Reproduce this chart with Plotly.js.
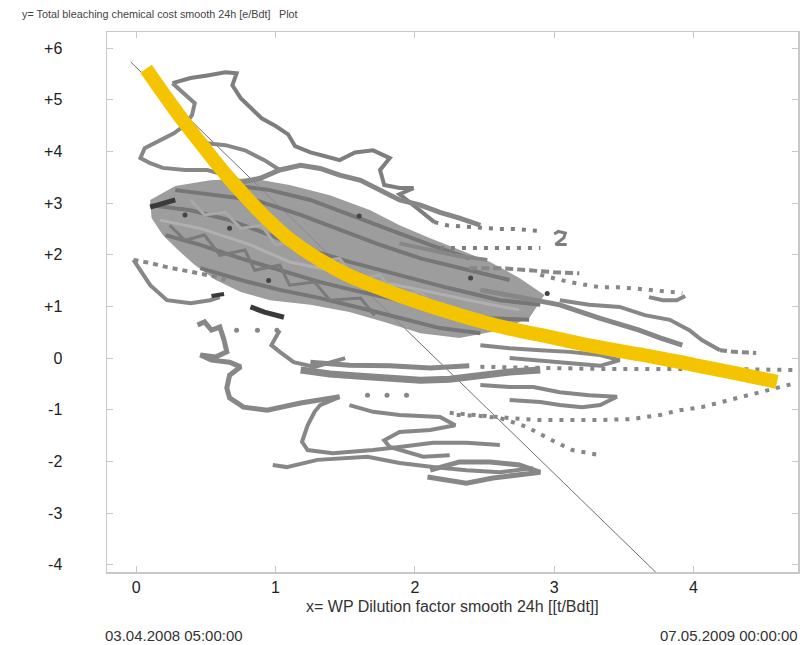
<!DOCTYPE html>
<html><head><meta charset="utf-8">
<script src="https://cdn.plot.ly/plotly-3.0.1.min.js"></script>
<style>html,body{margin:0;padding:0;background:#fff}#chart{width:803px;height:645px}</style>
</head><body><div id="chart"></div>
<script>
// ---- axis ticks ----
const xTickVals = [0, 1, 2, 3, 4];
const xTickText = ['0', '1', '2', '3', '4'];
const yTickVals = [6, 5, 4, 3, 2, 1, 0, -1, -2, -3, -4];
const yTickText = ['+6', '+5', '+4', '+3', '+2', '+1', '0', '-1', '-2', '-3', '-4'];

// ---- texts ----
const titleY = 'y= Total bleaching chemical cost smooth 24h [e/Bdt]';
const titlePlot = 'Plot';
const titleX = 'x= WP Dilution factor smooth 24h [[t/Bdt]]';
const dateStart = '03.04.2008 05:00:00';
const dateEnd = '07.05.2009 00:00:00';

// ---- fitted curve (yellow) ----
const fitX = [0.07, 0.2, 0.34, 0.5, 0.65, 0.8, 0.95, 1.1, 1.3, 1.5, 1.73, 1.9, 2.2, 2.6, 3.0, 3.3, 3.7, 4.0, 4.3, 4.6];
const fitY = [5.6, 5.1, 4.58, 4.03, 3.53, 3.08, 2.66, 2.3, 1.93, 1.63, 1.37, 1.2, 0.93, 0.62, 0.39, 0.22, 0.03, -0.13, -0.29, -0.46];

// ---- straight regression line ----
const lineX = [-0.04, 3.75];
const lineY = [5.73, -4.2];

// ---- dense core outline ----
const coreAreaX = [0.10,0.28,0.53,0.82,1.10,1.39,1.68,1.89,2.11,2.32,2.54,2.75,2.93,2.82,2.61,2.32,2.04,1.78,1.53,1.25,0.96,0.75,0.57,0.42,0.30,0.19,0.11,0.10];
const coreAreaY = [3.06,3.33,3.44,3.48,3.35,3.15,2.86,2.57,2.32,2.09,1.86,1.55,1.22,0.77,0.54,0.39,0.48,0.70,0.89,1.03,1.12,1.28,1.51,1.80,2.09,2.38,2.71,3.06];

// ---- trajectories ----
const c1X = [0.10,0.39,0.67,0.96,1.25,1.53,1.89,2.25,2.61,2.90];
const c1Y = [2.96,2.86,2.67,2.38,2.09,1.86,1.61,1.35,1.12,1.03];
const c2X = [0.28,0.57,0.85,1.18,1.46,1.75,2.04,2.39,2.68];
const c2Y = [3.25,3.15,3.06,2.77,2.48,2.19,1.93,1.70,1.51];
const c3X = [0.21,0.46,0.75,1.03,1.32,1.61,1.89,2.18,2.54,2.82];
const c3Y = [2.38,2.19,1.93,1.70,1.47,1.28,1.12,0.93,0.77,0.74];
const c4X = [0.46,0.75,1.03,1.32,1.61,1.89,2.18,2.47];
const c4Y = [1.74,1.51,1.32,1.16,0.97,0.77,0.58,0.48];
const c5X = [0.67,0.96,1.25,1.53,1.82,2.11,2.39];
const c5Y = [3.35,3.25,3.06,2.77,2.48,2.19,1.93];
const c6X = [0.17,0.46,0.82,1.10,1.39,1.68,2.04,2.39,2.75];
const c6Y = [2.67,2.51,2.19,1.86,1.70,1.51,1.32,1.12,0.93];
const w1X = [0.39,0.49,0.64,0.75,0.90,1.00,1.18,1.28,1.46,1.57,1.75,1.86,2.04,2.18];
const w1Y = [3.06,2.77,2.82,2.51,2.57,2.19,2.28,1.86,1.93,1.51,1.61,1.22,1.28,0.89];
const w2X = [0.24,0.35,0.49,0.60,0.78,0.85,1.03,1.10,1.28,1.39,1.61,1.71];
const w2Y = [2.57,2.28,2.38,1.99,2.09,1.70,1.80,1.41,1.47,1.12,1.16,0.83];

const loopTopX = [0.26,0.39,0.51,0.64,0.72,0.69,0.75,0.82,0.90,1.00,1.09,1.14,1.25,1.35,1.46,1.57,1.70,1.82,1.75,1.78,1.89,1.99,1.89,1.98,2.06,2.14];
const loopTopY = [5.32,5.42,5.47,5.53,5.51,5.28,5.03,4.84,4.64,4.49,4.33,4.10,3.98,3.91,3.83,3.98,4.02,3.87,3.64,3.35,3.29,3.29,3.17,2.98,2.80,2.63];
const tailTopX = [2.14,2.23,2.32,2.42,2.52,2.61,2.70,2.80,2.90];
const tailTopY = [2.63,2.57,2.55,2.53,2.51,2.50,2.50,2.48,2.46];
const glyphX = [3.00,3.03,3.08,3.07,3.01,3.09];
const glyphY = [2.40,2.45,2.42,2.33,2.20,2.20];

const lobeX = [0.26,0.35,0.42,0.40,0.35,0.27,0.17,0.06,0.03,0.10,0.19,0.35,0.51,0.64,0.75];
const lobeY = [5.32,5.09,4.93,4.70,4.51,4.35,4.22,4.06,3.87,3.77,3.68,3.64,3.64,3.54,3.40];
const lobeInnerX = [0.49,0.64,0.78,0.92,1.03];
const lobeInnerY = [4.16,4.12,4.02,3.83,3.64];
const midUpX = [0.75,0.89,1.03,1.18,1.32,1.46,1.61,1.75,1.89,2.04,2.18,2.32,2.47];
const midUpY = [3.40,3.48,3.64,3.73,3.67,3.54,3.44,3.25,3.06,2.96,2.82,2.71,2.57];

const upRight1X = [1.89,2.04,2.18,2.32,2.52];
const upRight1Y = [2.22,2.13,2.05,1.97,1.90];
const dotRow2X = [2.18,2.47,2.75,2.90];
const dotRow2Y = [2.13,2.13,2.13,2.13];
const dashRowX = [2.39,2.61,2.82,3.00,3.18];
const dashRowY = [1.74,1.74,1.70,1.66,1.64];
const dotRow3X = [2.90,3.11,3.33,3.45,3.56,3.68,3.81,3.92];
const dotRow3Y = [1.61,1.47,1.37,1.37,1.35,1.32,1.28,1.26];
const smallLoopX = [3.68,3.78,3.88,3.94];
const smallLoopY = [1.18,1.12,1.12,1.20];
const rightArmX = [3.04,3.25,3.47,3.65,3.83,3.97,4.06,4.19];
const rightArmY = [1.12,1.03,0.99,0.83,0.74,0.54,0.35,0.15];
const rightDashX = [4.19,4.29,4.45];
const rightDashY = [0.15,0.12,0.10];
const aboveFitX = [2.47,2.75,3.04,3.33,3.61,3.76,3.92];
const aboveFitY = [1.32,1.18,1.03,0.77,0.54,0.39,0.25];
const belowFitX = [2.47,2.68,2.90,3.11,3.33,3.47,3.33,3.11,2.90,2.68];
const belowFitY = [0.25,0.19,0.15,0.12,0.06,-0.04,-0.15,-0.10,-0.04,0.00];
const longDotsX = [2.47,2.90,3.33,3.76,4.19,4.71];
const longDotsY = [-0.17,-0.19,-0.21,-0.21,-0.21,-0.23];
const risingDotsX = [2.25,2.47,2.68,2.90,3.09,3.33,3.56,3.76,3.90,4.06,4.26,4.45,4.58,4.74];
const risingDotsY = [-1.06,-1.12,-1.16,-1.20,-1.20,-1.20,-1.18,-1.10,-1.01,-0.95,-0.81,-0.68,-0.58,-0.48];
const fallingDotsX = [2.30,2.47,2.61,2.80,3.02,3.13,3.33];
const fallingDotsY = [-1.10,-1.12,-1.16,-1.33,-1.64,-1.78,-1.88];

const startDotsX = [-0.02,0.10,0.22,0.34,0.46,0.58,0.64];
const startDotsY = [1.90,1.84,1.76,1.70,1.64,1.57,1.51];
const startLineX = [-0.02,0.03,0.10,0.22,0.39,0.53,0.60];
const startLineY = [1.90,1.70,1.41,1.12,1.06,1.12,1.18];
const hookX = [0.44,0.49,0.54,0.60,0.63,0.65,0.57,0.46,0.54,0.67,0.75,0.67,0.65,0.67,0.77,0.94,1.18,1.32,1.46];
const hookY = [0.64,0.70,0.54,0.60,0.35,0.12,0.02,0.06,-0.04,-0.08,-0.17,-0.33,-0.58,-0.77,-0.95,-1.01,-0.87,-0.81,-0.75];
const threeDotsX = [0.72,0.87,1.01];
const threeDotsY = [0.54,0.54,0.54];
const midLoopX = [1.03,0.97,1.03,1.13,1.28,1.39,1.50];
const midLoopY = [0.54,0.25,0.12,-0.08,-0.17,-0.08,0.00];
const bandAX = [1.18,1.39,1.61,1.82,2.04,2.25,2.47,2.68,2.90];
const bandAY = [-0.23,-0.31,-0.35,-0.39,-0.43,-0.41,-0.33,-0.27,-0.23];
const bandBX = [1.25,1.53,1.82,2.11,2.39];
const bandBY = [-0.08,-0.14,-0.15,-0.19,-0.15];
const dotRow4X = [1.66,1.80,1.94];
const dotRow4Y = [-0.72,-0.72,-0.72];
const lowLoopX = [1.46,1.32,1.28,1.23,1.19,1.23,1.41,1.70,1.89,2.13,2.37,2.61];
const lowLoopY = [-0.75,-0.91,-1.04,-1.30,-1.62,-1.78,-1.84,-1.78,-1.72,-1.64,-1.64,-1.68];
const bottomRowX = [0.98,1.08,1.30,1.66,1.89,2.13,2.37,2.61,2.85];
const bottomRowY = [-2.07,-2.11,-1.97,-1.91,-2.03,-2.11,-2.17,-2.21,-2.13];
const bottomLoopX = [2.09,2.25,2.37,2.56,2.75,2.90,2.75,2.54,2.32,2.11];
const bottomLoopY = [-2.30,-2.36,-2.42,-2.32,-2.26,-2.21,-2.07,-2.01,-2.01,-2.17];
const innerLoopX = [1.53,1.70,1.89,2.18,2.29,2.11,1.89,1.78,1.82,2.06,2.25];
const innerLoopY = [-0.91,-1.04,-1.10,-1.14,-1.30,-1.39,-1.43,-1.59,-1.72,-1.91,-1.88];
const rightLoopX = [2.47,2.68,2.85,3.04,3.25,3.45,3.33,3.20,3.04,2.90,2.68];
const rightLoopY = [-0.52,-0.56,-0.56,-0.66,-0.72,-0.75,-0.91,-0.95,-0.91,-0.85,-0.81];

const darkAX = [0.10,0.28];
const darkAY = [2.92,3.06];
const darkBX = [0.82,0.92,1.06];
const darkBY = [0.99,0.89,0.79];
const darkCX = [0.54,0.63];
const darkCY = [1.20,1.24];
const darkSpotsX = [0.35,0.67,1.20,1.60,0.95,2.40,2.95];
const darkSpotsY = [2.77,2.51,2.20,2.75,1.50,1.55,1.25];

// ---- build traces ----
const G = '#878787';
const FONT = 'Arial, Liberation Sans, sans-serif';
function line(x, y, w, color, dash) {
  return {x: x, y: y, type: 'scatter', mode: 'lines', hoverinfo: 'skip', showlegend: false,
          line: {color: color || G, width: w, dash: dash || 'solid', shape: 'linear'}};
}
function pts(x, y, s, color) {
  return {x: x, y: y, type: 'scatter', mode: 'markers', hoverinfo: 'skip', showlegend: false,
          marker: {color: color || G, size: s}};
}
const DOT = '4px,7px';
const traces = [
  {x: lineX, y: lineY, type: 'scatter', mode: 'lines', hoverinfo: 'skip', showlegend: false,
   line: {color: '#6e6e6e', width: 1}},
  {x: coreAreaX, y: coreAreaY, type: 'scatter', mode: 'lines', fill: 'toself', hoverinfo: 'skip', showlegend: false,
   fillcolor: 'rgba(140,140,140,0.85)', line: {color: 'rgba(0,0,0,0)', width: 0}},
  line(c1X, c1Y, 4, '#767676'),
  line(c2X, c2Y, 4, '#767676'),
  line(c3X, c3Y, 4, '#767676'),
  line(c4X, c4Y, 4, '#767676'),
  line(c5X, c5Y, 4, '#767676'),
  line(c6X, c6Y, 3, '#b0b0b0'),
  line(w1X, w1Y, 3, '#a8a8a8'),
  line(w2X, w2Y, 3, '#7a7a7a'),
  line(loopTopX, loopTopY, 4, '#7e7e7e'),
  line(tailTopX, tailTopY, 4, '#7e7e7e', DOT),
  line(glyphX, glyphY, 3, '#7e7e7e'),
  line(lobeX, lobeY, 4),
  line(lobeInnerX, lobeInnerY, 4),
  line(midUpX, midUpY, 5),
  line(upRight1X, upRight1Y, 4),
  line(dotRow2X, dotRow2Y, 4, '#7e7e7e', DOT),
  line(dashRowX, dashRowY, 4, G, '8px,4px'),
  line(dotRow3X, dotRow3Y, 4, G, DOT),
  line(smallLoopX, smallLoopY, 4),
  line(rightArmX, rightArmY, 4),
  line(rightDashX, rightDashY, 4, G, '7px,4px'),
  line(aboveFitX, aboveFitY, 5),
  line(belowFitX, belowFitY, 4),
  line(longDotsX, longDotsY, 4, G, DOT),
  line(risingDotsX, risingDotsY, 4, G, DOT),
  line(fallingDotsX, fallingDotsY, 4, G, DOT),
  line(startDotsX, startDotsY, 4, G, '5px,5px'),
  line(startLineX, startLineY, 4),
  line(hookX, hookY, 5),
  pts(threeDotsX, threeDotsY, 5),
  line(midLoopX, midLoopY, 4),
  line(bandAX, bandAY, 7),
  line(bandBX, bandBY, 5),
  pts(dotRow4X, dotRow4Y, 5),
  line(lowLoopX, lowLoopY, 4),
  line(bottomRowX, bottomRowY, 4),
  line(bottomLoopX, bottomLoopY, 5),
  line(innerLoopX, innerLoopY, 4),
  line(rightLoopX, rightLoopY, 4),
  line(darkAX, darkAY, 5, '#3a3a3a'),
  line(darkBX, darkBY, 5, '#3a3a3a'),
  line(darkCX, darkCY, 4, '#3a3a3a'),
  pts(darkSpotsX, darkSpotsY, 5, '#444'),
  {x: fitX, y: fitY, type: 'scatter', mode: 'lines', hoverinfo: 'skip', showlegend: false,
   line: {color: '#F5C400', width: 14, shape: 'spline'}}
];

const axisCommon = {
  showgrid: false, zeroline: false, showline: true, linecolor: '#c8c8c8', linewidth: 1.5,
  mirror: 'ticks', ticks: 'inside', ticklen: 6, tickcolor: '#c8c8c8', tickwidth: 1,
  tickfont: {family: FONT, size: 16, color: '#222'}
};
const layout = {
  width: 803, height: 645,
  margin: {l: 107, r: 5, t: 32, b: 73},
  paper_bgcolor: '#fff', plot_bgcolor: '#fff',
  showlegend: false,
  xaxis: Object.assign({}, axisCommon, {range: [-0.21, 4.75], tickmode: 'array', tickvals: xTickVals, ticktext: xTickText}),
  yaxis: Object.assign({}, axisCommon, {range: [-4.14, 6.31], tickmode: 'array', tickvals: yTickVals, ticktext: yTickText, ticklabelstandoff: 40}),
  annotations: [
    {text: titleY, xref: 'paper', yref: 'paper', x: -0.126, y: 1.033, xanchor: 'left', yanchor: 'middle', showarrow: false,
     font: {family: FONT, size: 10.8, color: '#444'}},
    {text: titlePlot, xref: 'paper', yref: 'paper', x: 0.246, y: 1.033, xanchor: 'left', yanchor: 'middle', showarrow: false,
     font: {family: FONT, size: 10.8, color: '#444'}},
    {text: titleX, xref: 'paper', yref: 'paper', x: 0.5, y: -0.0648, xanchor: 'center', yanchor: 'middle', showarrow: false,
     font: {family: FONT, size: 16, color: '#333'}},
    {text: dateStart, xref: 'paper', yref: 'paper', x: -0.006, y: -0.1185, xanchor: 'left', yanchor: 'middle', showarrow: false,
     font: {family: FONT, size: 15, color: '#333'}},
    {text: dateEnd, xref: 'paper', yref: 'paper', x: 1.003, y: -0.1185, xanchor: 'right', yanchor: 'middle', showarrow: false,
     font: {family: FONT, size: 15, color: '#333'}}
  ]
};
Plotly.newPlot('chart', traces, layout, {staticPlot: true, displayModeBar: false});
</script>
</body></html>
